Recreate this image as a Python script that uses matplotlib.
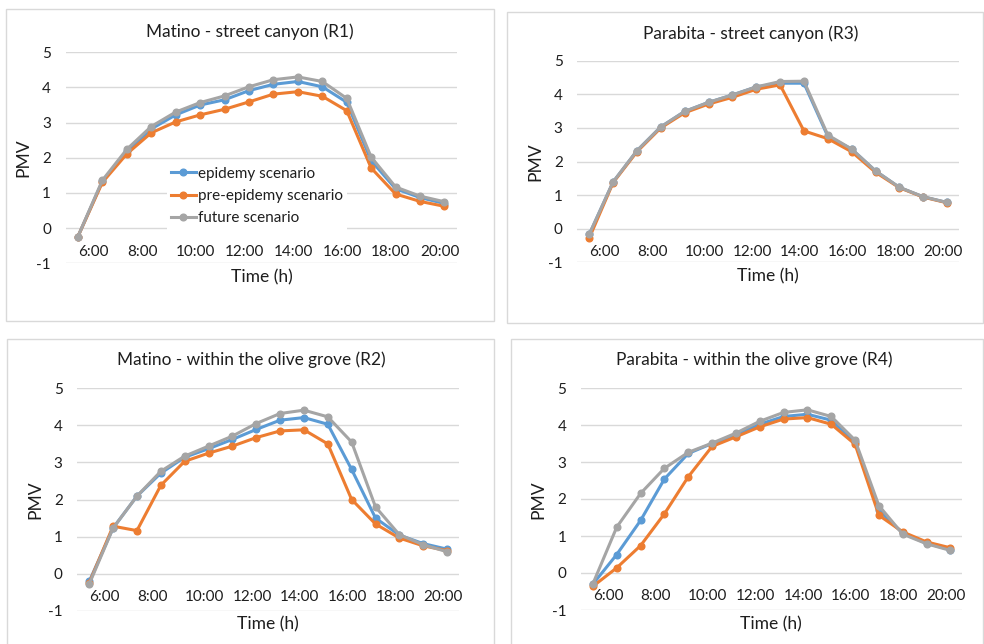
import matplotlib
matplotlib.use('Agg')
import matplotlib.pyplot as plt
from matplotlib.patches import Rectangle
import matplotlib.transforms as mtransforms

W, H = 984, 644
plt.rcParams['font.family'] = ['Lato', 'DejaVu Sans']
plt.rcParams['axes.unicode_minus'] = False

# ---- data ----
hours = ['6:00', '7:00', '8:00', '9:00', '10:00', '11:00', '12:00', '13:00',
         '14:00', '15:00', '16:00', '17:00', '18:00', '19:00', '20:00', '21:00']
tick_labels = ['6:00', '8:00', '10:00', '12:00', '14:00', '16:00', '18:00', '20:00']

series_names = ['epidemy scenario', 'pre-epidemy scenario', 'future scenario']
colors = ['#5B9BD5', '#ED7D31', '#A5A5A5']

titles = ['Matino - street canyon (R1)', 'Parabita - street canyon (R3)',
          'Matino - within the olive grove (R2)', 'Parabita - within the olive grove (R4)']

r1_epi = [-0.24, 1.33, 2.18, 2.82, 3.22, 3.50, 3.65, 3.91, 4.09, 4.17, 4.02, 3.58, 1.92, 1.12, 0.87, 0.70]
r1_pre = [-0.24, 1.30, 2.11, 2.71, 3.02, 3.22, 3.38, 3.59, 3.81, 3.88, 3.75, 3.34, 1.71, 0.97, 0.76, 0.62]
r1_fut = [-0.24, 1.36, 2.24, 2.89, 3.30, 3.57, 3.76, 4.02, 4.22, 4.30, 4.17, 3.69, 2.02, 1.17, 0.91, 0.75]

r3_epi = [-0.17, 1.39, 2.32, 3.03, 3.49, 3.76, 3.98, 4.22, 4.33, 4.33, 2.75, 2.37, 1.72, 1.23, 0.95, 0.78]
r3_pre = [-0.28, 1.37, 2.29, 3.00, 3.45, 3.71, 3.91, 4.15, 4.28, 2.91, 2.68, 2.29, 1.68, 1.22, 0.94, 0.77]
r3_fut = [-0.17, 1.39, 2.32, 3.03, 3.49, 3.76, 3.98, 4.22, 4.38, 4.39, 2.79, 2.37, 1.72, 1.23, 0.95, 0.78]

r2_epi = [-0.21, 1.23, 2.09, 2.71, 3.14, 3.37, 3.62, 3.89, 4.14, 4.21, 4.03, 2.81, 1.50, 1.04, 0.81, 0.66]
r2_pre = [-0.25, 1.28, 1.16, 2.38, 3.03, 3.25, 3.44, 3.67, 3.85, 3.88, 3.50, 2.00, 1.34, 0.96, 0.75, 0.62]
r2_fut = [-0.28, 1.23, 2.09, 2.76, 3.17, 3.44, 3.71, 4.05, 4.32, 4.41, 4.23, 3.55, 1.80, 1.05, 0.78, 0.59]

r4_epi = [-0.30, 0.50, 1.42, 2.54, 3.23, 3.50, 3.72, 4.02, 4.23, 4.29, 4.13, 3.53, 1.69, 1.08, 0.80, 0.63]
r4_pre = [-0.36, 0.14, 0.74, 1.60, 2.60, 3.42, 3.68, 3.95, 4.16, 4.20, 4.02, 3.48, 1.56, 1.11, 0.84, 0.68]
r4_fut = [-0.29, 1.24, 2.15, 2.83, 3.26, 3.51, 3.78, 4.10, 4.34, 4.41, 4.23, 3.59, 1.82, 1.05, 0.79, 0.61]

panel_data = [(r1_epi, r1_pre, r1_fut), (r3_epi, r3_pre, r3_fut),
              (r2_epi, r2_pre, r2_fut), (r4_epi, r4_pre, r4_fut)]

# ---- layout (pixels) ----
axes_px = [(65.7, 52.3, 456.7, 263.3),
           (577.3, 60.7, 959.0, 262.3),
           (77.3, 388.3, 459.0, 610.7),
           (581.0, 388.0, 962.3, 610.0)]
frames_px = [(6, 9, 493.7, 320.7),
             (507.3, 12, 983, 323.3),
             (7, 339, 494, 660),
             (510.7, 338.5, 983, 660)]
title_px = [(250, 31.7), (751, 34), (251, 360), (754, 360)]
xlabel_px = [(262, 277), (768, 276.7), (267.7, 624), (771, 624)]
ylabel_px = [(23, 158), (535, 162), (35, 500), (538, 500)]

TXT = '#1e1e1e'
GRID = '#d9d9d9'
FS_TICK = 11
FS_LAB = 12.6
FS_TITLE = 12.4

fig = plt.figure(figsize=(W / 100, H / 100), dpi=100)
fig.patch.set_facecolor('white')

def fx(x):
    return x / W

def fy(y):
    return 1 - y / H

for (x0, y0, x1, y1) in frames_px:
    fig.patches.append(Rectangle((fx(x0), fy(y1)), fx(x1) - fx(x0), fy(y0) - fy(y1),
                                 transform=fig.transFigure, fill=False,
                                 edgecolor=GRID, linewidth=1.0, zorder=0))

xs = list(range(len(hours)))
tick_pos = [hours.index(t) for t in tick_labels]

for k in range(4):
    x0, y0, x1, y1 = axes_px[k]
    ax = fig.add_axes([fx(x0), fy(y1), fx(x1) - fx(x0), fy(y0) - fy(y1)])
    ax.set_facecolor('none')
    ax.set_xlim(-0.5, len(hours) - 0.5)
    ax.set_ylim(-1, 5)
    ax.set_yticks(range(-1, 6))
    for s in ax.spines.values():
        s.set_visible(False)
    ax.tick_params(axis='y', length=0, pad=10.5, labelsize=FS_TICK, labelcolor=TXT)
    ax.set_xticks([])
    ax.grid(axis='y', color=GRID, linewidth=1.0, zorder=0)
    ax.set_axisbelow(True)

    lines = []
    for vals, c, name in zip(panel_data[k], colors, series_names):
        ln, = ax.plot(xs, vals, color=c, lw=2.2, marker='o', ms=4.8,
                      label=name, zorder=3, solid_joinstyle='round')
        lines.append(ln)

    off = mtransforms.offset_copy(ax.transData, fig=fig, x=0, y=-19.8, units='points')
    for p, lab in zip(tick_pos, tick_labels):
        ax.text(p, 0, lab, transform=off, ha='left', va='baseline',
                fontsize=FS_TICK, color=TXT)

    if k == 0:
        leg = ax.legend(handles=lines, loc='center left',
                        bbox_to_anchor=(0.258, 0.319), fontsize=FS_TICK,
                        frameon=True, fancybox=False, framealpha=1.0,
                        handlelength=1.6, handletextpad=0.15,
                        labelspacing=0.55, borderpad=0.3, borderaxespad=0)
        leg.get_frame().set_facecolor('white')
        leg.get_frame().set_edgecolor('none')
        leg.set_zorder(2)
        for t in leg.get_texts():
            t.set_color(TXT)

    tx, ty = title_px[k]
    fig.text(fx(tx), fy(ty), titles[k], ha='center', va='center', fontsize=FS_TITLE, color=TXT)
    lx, ly = xlabel_px[k]
    fig.text(fx(lx), fy(ly), 'Time (h)', ha='center', va='center', fontsize=FS_LAB, color=TXT)
    vx, vy = ylabel_px[k]
    fig.text(fx(vx), fy(vy), 'PMV', ha='center', va='center', rotation=90,
             fontsize=FS_LAB, color=TXT)

fig.savefig('out.png', dpi=100, facecolor='white')
